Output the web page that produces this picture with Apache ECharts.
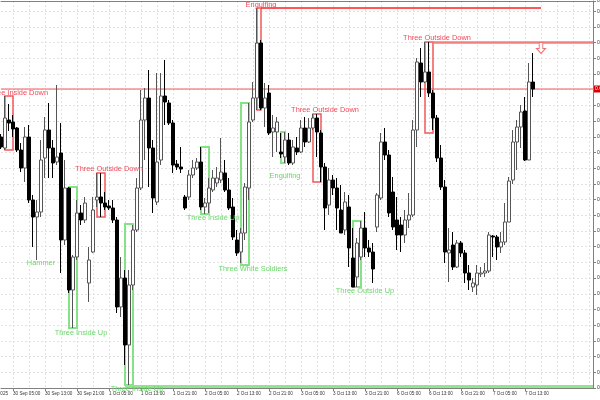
<!DOCTYPE html>
<html><head><meta charset="utf-8">
<script src="https://cdn.jsdelivr.net/npm/echarts@6/dist/echarts.min.js"></script>
<style>html,body{margin:0;padding:0;background:#fff}#c{width:600px;height:400px}</style>
</head><body><div id="c"></div>
<script>
// ---- candle values (hourly bars, first bar 30 Sep 02:00) ----
const openV = [0.6531,0.6520,0.6548,0.6546,0.6540,0.6518,0.6500,0.6531,0.6468,0.6451,
0.6456,0.6510,0.6538,0.6520,0.6506,0.6515,0.6428,0.6480,0.6378,0.6411,
0.6455,0.6448,0.6385,0.6416,0.6468,0.6471,0.6465,0.6462,0.6460,0.6448,
0.6361,0.6390,0.6323,0.6383,0.6438,0.6480,0.6548,0.6570,0.6520,0.6466,
0.6508,0.6572,0.6565,0.6545,0.6504,0.6501,0.6471,0.6471,0.6493,0.6500,
0.6506,0.6461,0.6465,0.6478,0.6485,0.6488,0.6495,0.6478,0.6461,0.6428,
0.6416,0.6435,0.6480,0.6548,0.6570,0.6625,0.6560,0.6575,0.6536,0.6536,
0.6516,0.6511,0.6528,0.6505,0.6520,0.6516,0.6540,0.6526,0.6540,0.6550,
0.6535,0.6501,0.6463,0.6488,0.6480,0.6458,0.6438,0.6461,0.6410,0.6391,
0.6411,0.6440,0.6420,0.6416,0.6441,0.6470,0.6526,0.6513,0.6476,0.6448,
0.6443,0.6433,0.6448,0.6453,0.6538,0.6605,0.6586,0.6596,0.6575,0.6550,
0.6510,0.6481,0.6415,0.6423,0.6401,0.6425,0.6415,0.6395,0.6381,0.6383,
0.6394,0.6395,0.6397,0.6432,0.6431,0.6421,0.6426,0.6446,0.6488,0.6526,
0.6541,0.6557,0.6508,0.6586];
const closeV = [0.6521,0.6550,0.6545,0.6539,0.6518,0.6500,0.6531,0.6468,0.6451,0.6456,
0.6508,0.6538,0.6520,0.6505,0.6511,0.6428,0.6480,0.6378,0.6411,0.6455,
0.6448,0.6465,0.6408,0.6458,0.6471,0.6465,0.6461,0.6460,0.6448,0.6361,
0.6390,0.6323,0.6383,0.6438,0.6480,0.6548,0.6570,0.6520,0.6470,0.6506,
0.6572,0.6566,0.6545,0.6503,0.6501,0.6499,0.6460,0.6493,0.6500,0.6506,
0.6461,0.6465,0.6480,0.6490,0.6490,0.6496,0.6478,0.6460,0.6431,0.6415,
0.6435,0.6481,0.6546,0.6570,0.6625,0.6560,0.6570,0.6535,0.6540,0.6546,
0.6514,0.6528,0.6505,0.6521,0.6516,0.6540,0.6526,0.6540,0.6550,0.6536,
0.6501,0.6460,0.6488,0.6480,0.6460,0.6435,0.6466,0.6420,0.6381,0.6425,
0.6440,0.6420,0.6416,0.6399,0.6473,0.6526,0.6513,0.6455,0.6441,0.6433,
0.6433,0.6448,0.6453,0.6538,0.6606,0.6586,0.6596,0.6575,0.6550,0.6510,
0.6481,0.6416,0.6418,0.6401,0.6425,0.6415,0.6395,0.6388,0.6385,0.6395,
0.6395,0.6397,0.6433,0.6431,0.6421,0.6426,0.6446,0.6487,0.6526,0.6541,
0.6556,0.6508,0.6586,0.6579];
const highV = [0.6534,0.6572,0.6564,0.6553,0.6541,0.6525,0.6541,0.6543,0.6473,0.6468,
0.6528,0.6551,0.6565,0.6528,0.6583,0.6545,0.6508,0.6481,0.6413,0.6468,
0.6463,0.6471,0.6421,0.6471,0.6495,0.6495,0.6476,0.6468,0.6468,0.6451,
0.6411,0.6398,0.6398,0.6443,0.6490,0.6578,0.6580,0.6598,0.6528,0.6595,
0.6595,0.6608,0.6568,0.6548,0.6508,0.6521,0.6473,0.6498,0.6508,0.6510,
0.6521,0.6470,0.6490,0.6498,0.6501,0.6530,0.6508,0.6490,0.6470,0.6438,
0.6440,0.6485,0.6565,0.6586,0.6660,0.6628,0.6585,0.6583,0.6553,0.6551,
0.6535,0.6536,0.6535,0.6528,0.6531,0.6548,0.6551,0.6550,0.6554,0.6554,
0.6538,0.6505,0.6500,0.6493,0.6490,0.6483,0.6476,0.6473,0.6440,0.6430,
0.6447,0.6456,0.6428,0.6425,0.6475,0.6535,0.6540,0.6518,0.6491,0.6471,
0.6451,0.6458,0.6475,0.6548,0.6610,0.6620,0.6626,0.6626,0.6578,0.6553,
0.6523,0.6488,0.6440,0.6436,0.6428,0.6427,0.6418,0.6403,0.6390,0.6403,
0.6401,0.6405,0.6436,0.6433,0.6433,0.6436,0.6465,0.6491,0.6538,0.6548,
0.6563,0.6571,0.6605,0.6615];
const lowV = [0.6519,0.6518,0.6537,0.6531,0.6516,0.6496,0.6486,0.6465,0.6421,0.6408,
0.6451,0.6490,0.6490,0.6490,0.6503,0.6395,0.6423,0.6375,0.6340,0.6408,
0.6443,0.6445,0.6366,0.6415,0.6461,0.6451,0.6458,0.6458,0.6445,0.6355,
0.6351,0.6303,0.6283,0.6378,0.6436,0.6478,0.6508,0.6481,0.6455,0.6463,
0.6503,0.6543,0.6543,0.6495,0.6498,0.6495,0.6458,0.6468,0.6490,0.6498,
0.6458,0.6454,0.6455,0.6476,0.6481,0.6485,0.6476,0.6458,0.6428,0.6412,
0.6405,0.6428,0.6468,0.6546,0.6558,0.6558,0.6541,0.6533,0.6511,0.6516,
0.6510,0.6505,0.6503,0.6503,0.6513,0.6515,0.6521,0.6525,0.6538,0.6511,
0.6486,0.6438,0.6453,0.6473,0.6438,0.6435,0.6433,0.6401,0.6381,0.6381,
0.6408,0.6411,0.6411,0.6385,0.6436,0.6468,0.6508,0.6451,0.6438,0.6418,
0.6416,0.6425,0.6440,0.6451,0.6521,0.6571,0.6585,0.6571,0.6538,0.6506,
0.6478,0.6405,0.6386,0.6398,0.6400,0.6411,0.6385,0.6378,0.6376,0.6373,
0.6391,0.6391,0.6395,0.6411,0.6408,0.6415,0.6423,0.6446,0.6484,0.6498,
0.6520,0.6507,0.6508,0.6571];
const lastPrice = 0.6579;

// ---- time axis: trading days and hours shown ----
const tradingDays = ['30 Sep','1 Oct','2 Oct','3 Oct','6 Oct','7 Oct','8 Oct'];
const dayFirstHour = [2,0,0,0,0,0,0];
const dayLastHour = [23,23,23,23,23,23,6];
const firstDateLabel = '30 Sep 2025';

// ---- candlestick pattern annotations ----
const patName   = ['Three Inside Down','Three Inside Up','Three Outside Down','Three Inside Up','Three Inside Up','Three White Soldiers','Engulfing','Engulfing','Three Outside Down','Three Outside Up','Three Outside Down'];
const patStart  = [1,17,24,31,50,60,64,70,78,88,106];
const patEnd    = [3,19,26,33,52,62,65,71,80,90,108];
const patTop    = [0.6572,0.6481,0.6495,0.6444,0.6521,0.6565,0.6660,0.6536,0.6554,0.6447,0.6626];
const patBottom = [0.6518,0.6340,0.6451,0.6283,0.6454,0.6403,0.6558,0.6505,0.6486,0.6381,0.6535];
const patBull   = [false,true,false,true,true,true,false,true,false,true,false];
const patLabelBar   = [4,20,27,34,53,63,65,71,81,91,109];
const patLabelPrice = [0.65755,0.6335,0.6499,0.6280,0.6450,0.6399,0.6663,0.6492,0.6558,0.6377,0.6630];
// single-candle pattern
const hammerBar = 10, hammerLabelPrice = 0.6405;
// level lines drawn from patterns
const lvlFrom  = [65,108,31];
const lvlTo    = [135,148,148];
const lvlPrice = [0.6660,0.6626,0.6282];
const lvlBull  = [false,false,true];
// sell signal arrow
const arrowBar = 135, arrowPrice = 0.6620;

// build categories
const cats = [];
tradingDays.forEach((d, k) => {
  for (let h = dayFirstHour[k]; h <= dayLastHour[k]; h++) cats.push(d + ' ' + String(h).padStart(2,'0') + ':00');
});
const candles = openV.map((o, i) => [o, closeV[i], lowV[i], highV[i]]);
const priceLine = cats.map(() => lastPrice);

const RED = '#f25a5a', RED_LINE = '#ff2020', RED_THICK = '#f38080', GREEN = '#86e286';
const FONT = 'Liberation Sans, Arial, sans-serif';

const areas = patName.map((n, k) => [
  {coord: [patStart[k], patTop[k]], itemStyle: {color: 'rgba(0,0,0,0)', borderColor: patBull[k] ? GREEN : RED, borderWidth: patBull[k] ? 2 : 1.5}},
  {coord: [patEnd[k], patBottom[k]]}
]);
const points = patName.map((n, k) => ({
  name: n, coord: [patLabelBar[k], patLabelPrice[k]], symbolSize: 0,
  label: {show: true, formatter: n, color: patBull[k] ? '#6ad66a' : '#f04a5a', fontSize: 7.4, fontFamily: FONT, position: 'inside', offset: k === 3 ? [0, 1] : [0, 0]}
}));
points.push({name: 'Hammer', coord: [hammerBar, hammerLabelPrice], symbolSize: 0,
  label: {show: true, formatter: 'Hammer', color: '#6ad66a', fontSize: 7.4, fontFamily: FONT, position: 'inside'}});
points.push({name: 'sell', coord: [arrowBar, arrowPrice],
  symbol: 'path://M3,0 L7,0 L7,6 L10,6 L5,11 L0,6 L3,6 Z', symbolSize: [9, 11],
  itemStyle: {color: '#fff', borderColor: '#f07070', borderWidth: 1}, label: {show: false}});

const lines = lvlFrom.map((f, k) => [
  {coord: [f, lvlPrice[k]], lineStyle: {color: lvlBull[k] ? '#8fe68f' : (k === 0 ? RED_LINE : RED_THICK), width: lvlBull[k] ? 3 : (k === 0 ? 1.5 : 2.5), type: 'solid'}},
  {coord: [lvlTo[k], lvlPrice[k]]}
]);

const gridTickFn = (i) => (i - 3) % 4 === 0;
const labelFn = (i) => i <= 131 && (i - 3) % 8 === 0;

const chart = echarts.init(document.getElementById('c'), null, {renderer: 'canvas'});
chart.setOption({
  animation: false,
  backgroundColor: '#fff',
  grid: {left: 1, right: 7, top: 1, bottom: 12, containLabel: false, outerBoundsMode: 'none'},
  xAxis: [{
    type: 'category', data: cats, boundaryGap: false, position: 'bottom',
    axisLine: {show: true, lineStyle: {color: '#808080', width: 1}},
    axisTick: {show: true, interval: labelFn, length: 3, lineStyle: {color: '#808080'}},
    axisLabel: {interval: labelFn, align: 'left', fontSize: 4.6, color: '#333', margin: 3, fontFamily: FONT},
    splitLine: {show: true, interval: gridTickFn, lineStyle: {color: '#e2e2e2', type: [2, 2], width: 1}}
  }, {
    type: 'category', data: cats, boundaryGap: false, position: 'top',
    axisLine: {show: true, lineStyle: {color: '#808080', width: 1}},
    axisTick: {show: false}, axisLabel: {show: false}, splitLine: {show: false}
  }],
  yAxis: {
    type: 'value', position: 'right', min: 0.628, max: 0.6667, interval: 0.00157, scale: true,
    axisLine: {show: true, lineStyle: {color: '#808080', width: 1}},
    axisTick: {show: true, length: 3, lineStyle: {color: '#808080'}},
    axisLabel: {fontSize: 5, color: '#333', margin: 4, formatter: v => v.toFixed(5), fontFamily: FONT},
    splitLine: {show: true, lineStyle: {color: '#e2e2e2', type: [2, 2], width: 1}}
  },
  graphic: [{type: 'text', right: 592, bottom: 4, style: {text: firstDateLabel, fontSize: 4.6, fill: '#333', font: '4.6px ' + FONT}}],
  series: [{
    type: 'line', data: priceLine, symbol: 'none', silent: true, z: 1,
    lineStyle: {color: '#ea5a5a', width: 1},
    endLabel: {show: true, formatter: () => lastPrice.toFixed(5), distance: 1, fontSize: 5, color: '#fff', backgroundColor: '#d40000', padding: [1, 1], fontFamily: FONT}
  }, {
    type: 'candlestick', data: candles, barWidth: 3, clip: false, silent: true, z: 3,
    itemStyle: {color: '#ffffff', color0: '#000000', borderColor: '#555555', borderColor0: '#000000', borderWidth: 1},
    markArea: {silent: true, data: areas},
    markLine: {silent: true, symbol: ['none', 'none'], label: {show: false}, data: lines},
    markPoint: {silent: true, data: points}
  }]
});
</script></body></html>
